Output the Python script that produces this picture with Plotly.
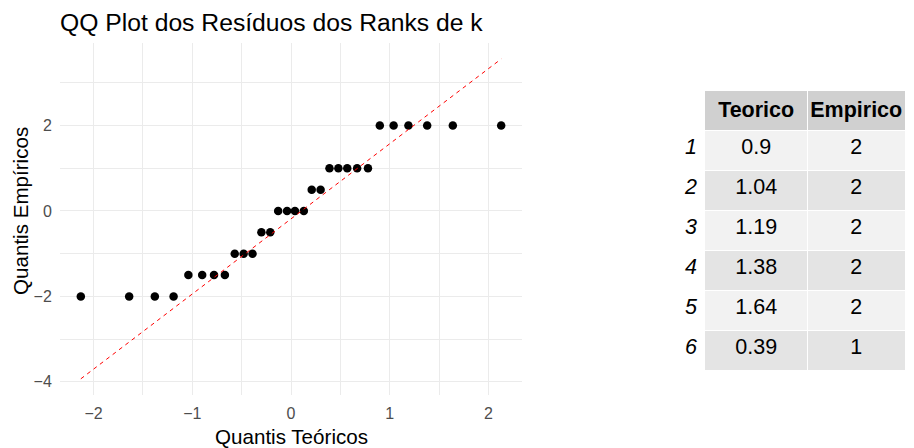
import plotly.graph_objects as go

# QQ plot data (theoretical vs empirical quantiles)
teorico_x = [-2.13, -1.64, -1.38, -1.19, -1.04, -0.9, -0.78, -0.67, -0.57, -0.48,
             -0.39, -0.3, -0.21, -0.13, -0.04, 0.04, 0.13, 0.21, 0.3, 0.39,
             0.48, 0.57, 0.67, 0.78, 0.9, 1.04, 1.19, 1.38, 1.64, 2.13]
empirico_y = [-2, -2, -2, -2, -1.5, -1.5, -1.5, -1.5, -1, -1,
              -1, -0.5, -0.5, 0, 0, 0, 0, 0.5, 0.5, 1,
              1, 1, 1, 1, 2, 2, 2, 2, 2, 2]

# reference line end points
ref_x = [-2.13, 2.13]
ref_y = [-3.93, 3.56]

# table shown at the right
row_names = ['1', '2', '3', '4', '5', '6']
tab_teorico = ['0.9', '1.04', '1.19', '1.38', '1.64', '0.39']
tab_empirico = ['2', '2', '2', '2', '2', '1']

FONT = 'Liberation Sans, Arial, sans-serif'
GRID = '#EBEBEB'

# the page body adds an 8px offset, so layout is in figure pixels
W, H = 914, 448
L, T, B = 52, 35, 61
PW, PH = W - L, H - T - B

fig = go.Figure()

fig.add_trace(go.Scatter(x=teorico_x, y=empirico_y, mode='markers',
                         marker=dict(color='black', size=8.5),
                         showlegend=False))
fig.add_trace(go.Scatter(x=ref_x, y=ref_y, mode='lines',
                         line=dict(color='red', width=1, dash='4px,4px'),
                         showlegend=False))

row_fill = ['#F2F2F2' if i % 2 == 0 else '#E4E4E4' for i in range(len(row_names))]
fig.add_trace(go.Table(
    domain=dict(x=[(672 - L) / PW, (898 - L) / PW], y=[0.0, (387 - 82) / PH]),
    columnwidth=[25, 103, 98],
    header=dict(values=['', '<b>Teorico</b>', '<b>Empirico</b>'],
                fill_color=['white', '#D0D0D0', '#D0D0D0'],
                line=dict(color='white', width=1),
                align=['right', 'center', 'center'],
                font=dict(family=FONT, size=21.5, color='black'),
                height=38),
    cells=dict(values=[row_names, tab_teorico, tab_empirico],
               fill_color=[['white'] * 6, row_fill, row_fill],
               line=dict(color='white', width=1),
               align=['right', 'center', 'center'],
               font=dict(family=FONT, size=21.5, color='black',
                         style=['italic', 'normal', 'normal']),
               height=40),
))

fig.update_layout(
    width=W, height=H,
    margin=dict(l=L, r=0, t=T, b=B, autoexpand=False),
    plot_bgcolor='white', paper_bgcolor='white',
    font=dict(family=FONT),
    title=dict(text='QQ Plot dos Resíduos dos Ranks de k',
               x=52 / W, xanchor='left', y=1 - 14 / H, yanchor='middle',
               font=dict(family=FONT, size=24.7, color='black')),
    annotations=[
        dict(text='Quantis Teóricos', xref='paper', yref='paper',
             x=(283 - L) / PW, y=-(428 - 387) / PH, xanchor='center', yanchor='middle',
             showarrow=False, font=dict(family=FONT, size=20.6, color='black')),
        dict(text='Quantis Empíricos', xref='paper', yref='paper', textangle=-90,
             x=(12 - L) / PW, y=(387 - 203) / PH, xanchor='center', yanchor='middle',
             showarrow=False, font=dict(family=FONT, size=20.6, color='black')),
    ],
)

fig.update_xaxes(
    domain=[0, (514 - L) / PW], automargin=False,
    range=[-2.341, 2.341], tickvals=[-2, -1, 0, 1, 2],
    showgrid=True, gridcolor=GRID, gridwidth=1.1, zeroline=False, showline=False,
    minor=dict(dtick=0.5, tick0=0, showgrid=True, gridcolor=GRID, gridwidth=0.6),
    ticks='outside', ticklen=4, tickcolor='rgba(0,0,0,0)',
    tickfont=dict(family=FONT, size=16, color='#4D4D4D'),
)
fig.update_yaxes(
    range=[-4.309, 3.934], tickvals=[-4, -2, 0, 2], automargin=False,
    showgrid=True, gridcolor=GRID, gridwidth=1.1, zeroline=False, showline=False,
    minor=dict(dtick=1, tick0=0, showgrid=True, gridcolor=GRID, gridwidth=0.6),
    ticks='outside', ticklen=4, tickcolor='rgba(0,0,0,0)',
    tickfont=dict(family=FONT, size=16, color='#4D4D4D'),
)

fig.write_html('out.html')
